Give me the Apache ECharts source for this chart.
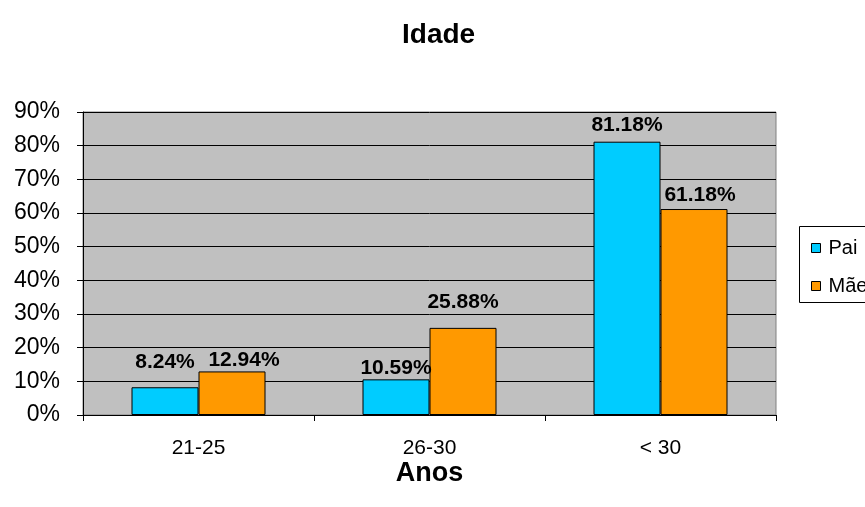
<!DOCTYPE html>
<html>
<head>
<meta charset="utf-8">
<title>Idade</title>
<script src="https://cdn.jsdelivr.net/npm/echarts@6/dist/echarts.min.js"></script>
<style>
  html, body { margin: 0; padding: 0; background: #ffffff; }
  #chart { width: 865px; height: 507px; }
</style>
</head>
<body>
<div id="chart"></div>
<script>
// Age groups (years) and share of fathers / mothers in each, in percent
const categories = ['21-25', '26-30', '< 30'];
const paiValues = [8.24, 10.59, 81.18];
const maeValues = [12.94, 25.88, 61.18];
const seriesNames = ['Pai', 'Mãe'];

// Small label nudges [dx, dy] so neighbouring value labels do not collide
const paiLabelNudge = [[0, -15], [0, -1], [0, -6]];
const maeLabelNudge = [[12, -1], [0, -15], [6, -3]];

const FONT = "'Liberation Sans', Arial, sans-serif";

function withLabels(values, nudges) {
  return values.map((v, i) => ({
    value: v,
    label: { offset: nudges[i] }
  }));
}

const chart = echarts.init(document.getElementById('chart'), null, { renderer: 'canvas' });

const barLabel = {
  show: true,
  position: 'top',
  distance: 0,
  fontFamily: FONT,
  fontSize: 21,
  lineHeight: 21,
  fontWeight: 'bold',
  color: '#000000',
  formatter: p => p.value.toFixed(2) + '%'
};

chart.setOption({
  animation: false,
  backgroundColor: '#ffffff',
  textStyle: { fontFamily: FONT },
  title: {
    text: 'Idade',
    left: 397,
    top: 16,
    textStyle: { fontFamily: FONT, fontSize: 28, fontWeight: 'bold', color: '#000000', lineHeight: 28 }
  },
  legend: {
    orient: 'vertical',
    left: 806,
    top: 233,
    itemWidth: 9,
    itemHeight: 9,
    itemGap: 18,
    icon: 'rect',
    data: seriesNames,
    textStyle: { fontFamily: FONT, fontSize: 20, lineHeight: 20, color: '#000000', padding: [0, 0, 0, 3] },
    itemStyle: { borderColor: '#000000', borderWidth: 1 }
  },
  graphic: [{
    type: 'rect',
    z: -1,
    shape: { x: 799.5, y: 226.5, width: 90, height: 76 },
    style: { fill: '#ffffff', stroke: '#000000', lineWidth: 1 }
  }],
  grid: {
    left: 83,
    top: 112,
    width: 693,
    height: 303,
    show: true,
    backgroundColor: '#C0C0C0',
    borderColor: '#808080',
    borderWidth: 1,
    containLabel: false
  },
  xAxis: {
    type: 'category',
    data: categories,
    name: 'Anos',
    nameLocation: 'middle',
    nameGap: 59,
    nameMoveOverlap: false,
    nameTextStyle: { fontFamily: FONT, fontSize: 27, fontWeight: 'bold', color: '#000000', verticalAlign: 'middle' },
    axisLine: { show: true, lineStyle: { color: '#000000', width: 1 } },
    axisTick: { show: true, length: 6, lineStyle: { color: '#000000' } },
    axisLabel: { fontFamily: FONT, fontSize: 21, color: '#000000', margin: 23 },
    splitLine: { show: false }
  },
  yAxis: {
    type: 'value',
    min: 0,
    max: 90,
    interval: 10,
    axisLine: { show: true, lineStyle: { color: '#000000', width: 1 } },
    axisTick: { show: true, length: 6, lineStyle: { color: '#000000' } },
    axisLabel: { fontFamily: FONT, fontSize: 23, color: '#000000', margin: 23, formatter: '{value}%' },
    splitLine: { show: true, lineStyle: { color: '#000000', width: 1 } }
  },
  series: [
    {
      name: seriesNames[0],
      type: 'bar',
      barWidth: 67,
      barGap: '0%',
      data: withLabels(paiValues, paiLabelNudge),
      itemStyle: { color: '#00CCFF', borderColor: '#000000', borderWidth: 1 },
      label: barLabel
    },
    {
      name: seriesNames[1],
      type: 'bar',
      barWidth: 67,
      barGap: '0%',
      data: withLabels(maeValues, maeLabelNudge),
      itemStyle: { color: '#FF9900', borderColor: '#000000', borderWidth: 1 },
      label: barLabel
    }
  ]
});
</script>
</body>
</html>
